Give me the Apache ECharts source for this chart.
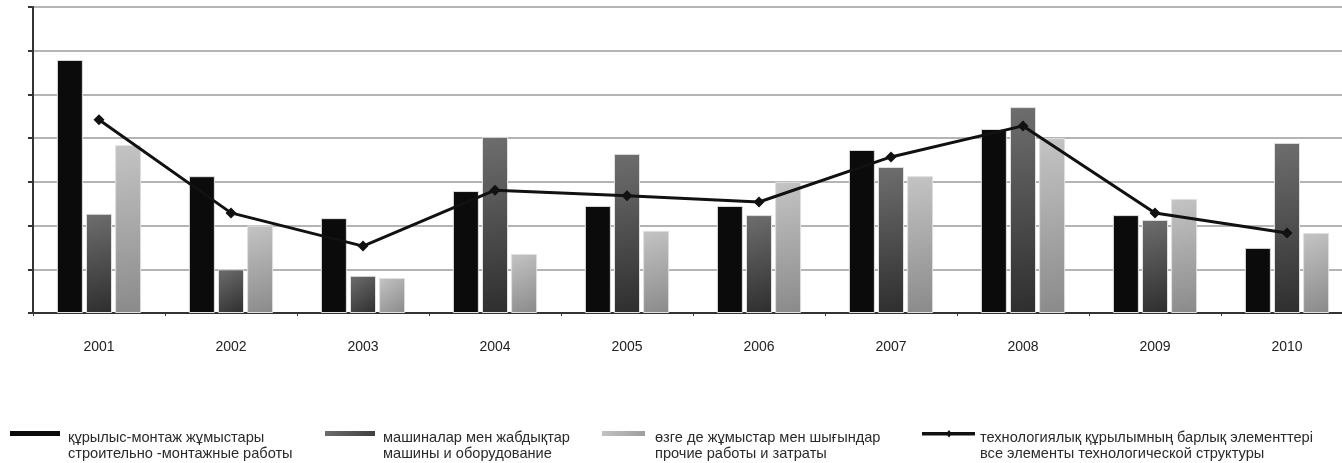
<!DOCTYPE html>
<html>
<head>
<meta charset="utf-8">
<script src="https://cdn.jsdelivr.net/npm/echarts@6/dist/echarts.min.js"></script>
<style>
  html, body { margin: 0; padding: 0; background: #fff; }
  #chart { width: 1342px; height: 463px; }
</style>
</head>
<body>
<div id="chart"></div>
<script>
const years = ['2001', '2002', '2003', '2004', '2005', '2006', '2007', '2008', '2009', '2010']

// values (axis units, 7 gridline steps)
const construction = [5.79, 3.13, 2.17, 2.79, 2.45, 2.45, 3.73, 4.21, 2.24, 1.49]
const machinery = [2.27, 1.0, 0.85, 4.03, 3.64, 2.24, 3.34, 4.71, 2.13, 3.89]
const otherWorks = [3.84, 2.0, 0.8, 1.35, 1.88, 3.0, 3.13, 4.0, 2.61, 1.83]
const allElements = [4.42, 2.29, 1.53, 2.81, 2.68, 2.54, 3.57, 4.28, 2.29, 1.83]

const names = [
  'құрылыс-монтаж жұмыстары\nстроительно -монтажные работы',
  'машиналар мен жабдықтар\nмашины и оборудование',
  'өзге де жұмыстар мен шығындар\nпрочие работы и затраты',
  'технологиялық құрылымның барлық элементтері\nвсе элементы технологической структуры',
]

const grad = (a, b) => new echarts.graphic.LinearGradient(0, 0, 1, 1, [
  { offset: 0, color: a },
  { offset: 1, color: b },
])

const barStyle = (c) => ({ color: c, borderColor: '#e0e0e0', borderWidth: 1 })

// legend icons sit on the first text line; stray points stretch the icon box
const dot = (x, y) => `M${x},${y}L${x + 0.01},${y}L${x},${y}Z`
const barIcon = (w, box) => `path://${dot(0, 0)} M0,1H${w}V6H0Z ${dot(box, 32)}`
const lineIcon = `path://${dot(0, 0)} M0,2H53V5.5H0Z M27,0L30,3.75L27,7.5L24,3.75Z ${dot(53, 32)}`

const legendText = { fontFamily: 'Liberation Sans', fontSize: 14.6, color: '#2a2a2a', lineHeight: 16 }
const legendAt = (name, left, box, icon) => ({
  data: [name],
  left,
  top: 425,
  icon,
  itemWidth: box,
  itemHeight: 32,
  itemStyle: { borderWidth: 0 },
  textStyle: legendText,
  selectedMode: false,
})

const chart = echarts.init(document.getElementById('chart'))
chart.setOption({
  animation: false,
  textStyle: { fontFamily: 'Liberation Sans' },
  legend: [
    legendAt(names[0], 5, 53, barIcon(50, 53)),
    legendAt(names[1], 320, 53, barIcon(50, 53)),
    legendAt(names[2], 597, 48, barIcon(43, 48)),
    legendAt(names[3], 917, 53, lineIcon),
  ],
  grid: { left: 33, width: 1320, top: 7, bottom: 150, outerBoundsMode: 'none' },
  xAxis: {
    type: 'category',
    data: years,
    axisLine: { lineStyle: { color: '#333', width: 2 } },
    axisTick: { show: true, length: 3, lineStyle: { color: '#333' } },
    axisLabel: { fontSize: 14, color: '#222', margin: 27 },
  },
  yAxis: {
    type: 'value',
    min: 0,
    max: 7,
    interval: 1,
    axisLine: { show: true, lineStyle: { color: '#333', width: 2 } },
    axisTick: { show: true, length: 5, lineStyle: { color: '#333', width: 2 } },
    axisLabel: { show: false },
    splitLine: { lineStyle: { color: '#b4b4b4', width: 2 } },
  },
  series: [
    {
      name: names[0],
      type: 'bar',
      data: construction,
      barWidth: 26,
      barGap: '12%',
      itemStyle: barStyle('#0b0b0b'),
    },
    {
      name: names[1],
      type: 'bar',
      data: machinery,
      barWidth: 26,
      barGap: '12%',
      itemStyle: barStyle(grad('#6e6e6e', '#2e2e2e')),
    },
    {
      name: names[2],
      type: 'bar',
      data: otherWorks,
      barWidth: 26,
      barGap: '12%',
      itemStyle: barStyle(grad('#c4c4c4', '#8a8a8a')),
    },
    {
      name: names[3],
      type: 'line',
      data: allElements,
      symbol: 'diamond',
      symbolSize: 11,
      itemStyle: { color: '#111' },
      lineStyle: { color: '#111', width: 3 },
      z: 5,
    },
  ],
})
</script>
</body>
</html>
